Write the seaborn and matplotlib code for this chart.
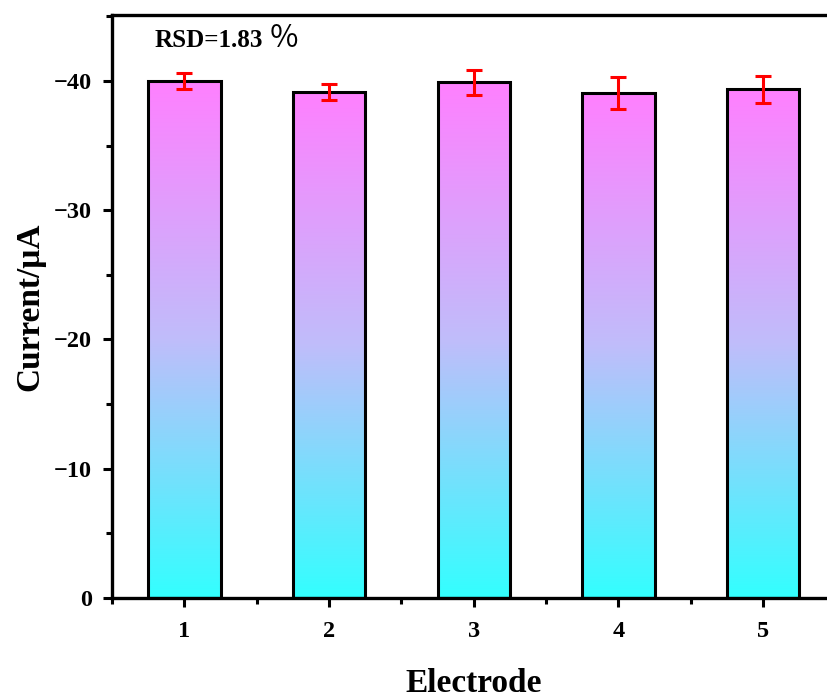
import numpy as np
import pandas as pd
import matplotlib
matplotlib.use("Agg")
import matplotlib.pyplot as plt
from matplotlib.ticker import MultipleLocator, FixedLocator
from matplotlib.colors import LinearSegmentedColormap
import seaborn as sns

electrodes = [1, 2, 3, 4, 5]
currents = [-40.0, -39.15, -39.9, -39.05, -39.35]
errors = [0.6, 0.65, 0.95, 1.25, 1.05]
rsd_text = "RSD=1.83"
pct_text = "％"

sns.set_theme(style="ticks")
plt.rcParams['font.family'] = ['Liberation Serif', 'DejaVu Serif']
plt.rcParams['font.weight'] = 'bold'
plt.rcParams['axes.unicode_minus'] = True
plt.rcParams['text.color'] = 'black'
plt.rcParams['axes.labelcolor'] = 'black'
plt.rcParams['xtick.color'] = 'black'
plt.rcParams['ytick.color'] = 'black'

fig = plt.figure(figsize=(8.27, 6.98), dpi=100)
ax = fig.add_axes([112/827, 100/698, 723.5/827, 583/698])

df = pd.DataFrame({"Electrode": electrodes, "Current": currents})
sns.barplot(data=df, x="Electrode", y="Current", native_scale=True, width=0.5,
            errorbar=None, ax=ax, color="white", edgecolor="black", linewidth=2.2,
            zorder=3)

cmap = LinearSegmentedColormap.from_list("grad", ["#33ffff", "#c0bdfa", "#ff80ff"])
grad = np.linspace(0, 1, 256).reshape(-1, 1)
for p in ax.patches:
    x0, y0 = p.get_x(), p.get_y()
    w, h = p.get_width(), p.get_height()
    im = ax.imshow(grad, cmap=cmap, aspect="auto", origin="upper" if h < 0 else "lower",
                   extent=[x0, x0 + w, y0 + h, y0] if h < 0 else [x0, x0 + w, y0, y0 + h],
                   zorder=2, interpolation="bicubic")
    im.set_clip_path(p)
    p.set_facecolor("none")

ax.errorbar(electrodes, currents, yerr=errors, fmt="none", ecolor="red",
            elinewidth=2.2, capsize=5.5, capthick=2.2, zorder=4)

ax.set_xlim(0.5, 5.5)
ax.set_ylim(0, -45.1)
ax.xaxis.set_major_locator(FixedLocator(electrodes))
ax.xaxis.set_minor_locator(MultipleLocator(1, offset=0.5))
ax.yaxis.set_major_locator(MultipleLocator(10))
ax.yaxis.set_minor_locator(MultipleLocator(5))

for s in ax.spines.values():
    s.set_linewidth(2.4)
    s.set_color("black")
ax.tick_params(which="major", direction="out", length=6.5, width=2.2, labelsize=17.5,
               colors="black")
ax.tick_params(axis="y", which="major", pad=8)
ax.tick_params(axis="x", which="major", pad=10)
ax.tick_params(which="minor", direction="out", length=4, width=2.2, colors="black")
for lab in ax.get_xticklabels() + ax.get_yticklabels():
    lab.set_fontweight("bold")

ax.set_xlabel("Electrode", fontsize=24, fontweight="bold", labelpad=19, color="black")
ax.set_ylabel("Current/μA", fontsize=24, fontweight="bold", labelpad=6, color="black")

ybase = 1 - 32/583
ax.text(43/723.5, ybase, rsd_text, transform=ax.transAxes, fontsize=18,
        fontweight="bold", va="baseline", ha="left", color="black")
ax.text(157/723.5, ybase, pct_text, transform=ax.transAxes, fontsize=22,
        fontweight="normal", va="baseline", ha="left", color="black",
        family=["Noto Sans CJK SC", "DejaVu Sans"])

fig.savefig("out.png", dpi=100)
